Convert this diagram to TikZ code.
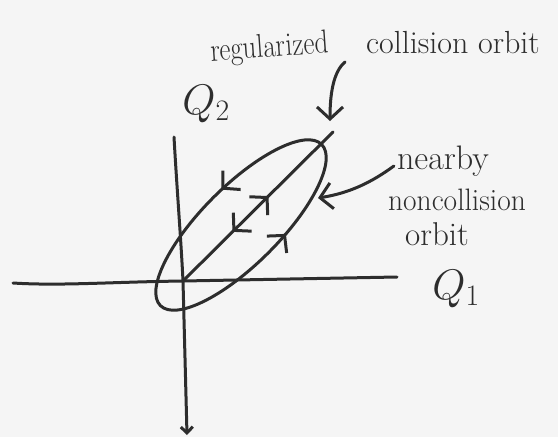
\documentclass[tikz,border=0pt]{standalone}
\usetikzlibrary{arrows.meta,decorations.markings}
\definecolor{ink}{RGB}{45,45,45}
\definecolor{paper}{RGB}{245,245,245}
\begin{document}
\begin{tikzpicture}[x=1pt,y=1pt,
  inkline/.style={draw=ink,line width=3pt,line cap=round,line join=round},
  >={Straight Barb[length=12pt,width=26pt]},
  lbl/.style={text=ink,inner sep=0pt,font=\fontsize{31}{36}\selectfont},
  qlbl/.style={text=ink,inner sep=0pt,font=\fontsize{24}{28}\selectfont,scale=1.72,transform shape},
  midarrows/.style={postaction={decorate},decoration={markings,#1}}
]
\useasboundingbox[fill=paper] (0,0) rectangle (558,-437);

% named points
\coordinate (O) at (183,-281);
\coordinate (hl) at (13,-283);
\coordinate (hr) at (397,-277);
\coordinate (vt) at (174,-137);
\coordinate (vb) at (187,-435);
\coordinate (T) at (333,-132);
\coordinate (C) at (241,-225);
\coordinate (rs) at (345,-62);
\coordinate (re) at (330,-121);
\coordinate (ne) at (318,-198);

% axes
\draw[inkline] (hl) .. controls (60,-286) and (110,-282) .. (O) -- (hr);
\draw[inkline,-{Straight Barb[length=6pt,width=12pt]}] (vt) .. controls (177,-190) and (181,-240) .. (O) -- (vb);

% nearby noncollision orbit (ellipse)
\draw[inkline,rotate around={45:(C)},
  midarrows={mark=at position 0.228 with {\arrow{>}},mark=at position 0.80 with {\arrow{>}}}]
  (C) ellipse [x radius=114,y radius=39];

% regularized collision orbit (segment)
\draw[inkline,midarrows={mark=at position 0.57 with {\arrow{>}},mark=at position 0.33 with {\arrowreversed{>}}}]
  (O) -- (T);

% labels
\node[qlbl,anchor=base west] (q2) at (182,-114) {$Q_2$};
\node[qlbl,anchor=base west] (q1) at (432,-299) {$Q_1$};
\node[lbl,anchor=base,rotate=4,xscale=0.82,font=\fontsize{33}{36}\selectfont] (reg) at (270,-57) {regularized};
\node[lbl,anchor=base,font=\fontsize{32}{36}\selectfont] (coll) at (453,-53) {collision orbit};
\node[lbl,anchor=base,font=\fontsize{34}{38}\selectfont] (near) at (443,-169) {nearby};
\node[lbl,anchor=base,xscale=0.95] (nonc) at (457,-210) {noncollision};
\node[lbl,anchor=base,font=\fontsize{33}{38}\selectfont] (orb) at (437,-245) {orbit};
\coordinate (ns) at ([xshift=-3pt,yshift=3pt]near.base west);

% label arrows
\draw[inkline,->] (rs) .. controls (333,-72) and (330,-95) .. (re);
\draw[inkline,->] (ns) .. controls (372,-182) and (350,-193) .. (ne);
\end{tikzpicture}
\end{document}
